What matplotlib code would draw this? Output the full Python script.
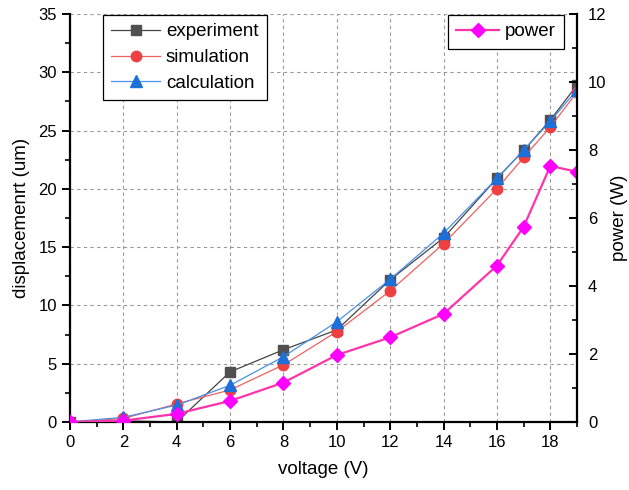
import matplotlib.pyplot as plt
from matplotlib.ticker import MultipleLocator

plt.rcParams['font.family'] = ['Liberation Sans', 'DejaVu Sans']

# data
voltage = [0, 2, 4, 6, 8, 10, 12, 14, 16, 17, 18, 19]
experiment = [0, 0.1, 0.0, 4.3, 6.2, 7.9, 12.2, 15.8, 20.9, 23.3, 25.9, 28.9]
simulation = [0, 0.3, 1.55, 2.75, 4.9, 7.75, 11.25, 15.3, 20.0, 22.7, 25.3, 28.3]
calculation = [0, 0.4, 1.45, 3.15, 5.6, 8.6, 12.25, 16.2, 20.9, 23.3, 25.8, 28.5]
power = [0, 0.04, 0.24, 0.62, 1.16, 1.97, 2.49, 3.18, 4.6, 5.74, 7.53, 7.36]

fig = plt.figure(figsize=(6.29, 4.90), dpi=100)
ax = fig.add_axes([0.1113, 0.1388, 0.8060, 0.8326])

ax.plot(voltage, experiment, color='#444444', lw=0.9, marker='s', ms=7,
        mfc='#505050', mec='#505050', label='experiment')
ax.plot(voltage, simulation, color='#f06060', lw=0.9, marker='o', ms=7.5,
        mfc='#ee4040', mec='#ee4040', label='simulation')
ax.plot(voltage, calculation, color='#4a90e8', lw=0.9, marker='^', ms=8.5,
        mfc='#1f6fd8', mec='#1f6fd8', label='calculation')

ax.set_xlim(0, 19)
ax.set_ylim(0, 35)
ax.xaxis.set_major_locator(MultipleLocator(2))
ax.xaxis.set_minor_locator(MultipleLocator(1))
ax.yaxis.set_major_locator(MultipleLocator(5))
ax.yaxis.set_minor_locator(MultipleLocator(2.5))
ax.grid(True, which='major', linestyle=(0, (3, 3)), color='#999999', lw=0.8)
ax.spines['top'].set_visible(False)
ax.spines['right'].set_visible(False)
for s in ['left', 'bottom']:
    ax.spines[s].set_linewidth(1.6)
ax.tick_params(which='major', direction='out', length=6, width=1.4, labelsize=12)
ax.tick_params(which='minor', direction='out', length=3.5, width=1.2)
ax.set_xlabel('voltage (V)', fontsize=13.5, labelpad=8)
ax.set_ylabel('displacemenrt (um)', fontsize=13.5, labelpad=6)

leg = ax.legend(loc='upper left', bbox_to_anchor=(0.065, 0.998), fontsize=13.5,
                frameon=True, fancybox=False, edgecolor='black', framealpha=1,
                handlelength=2.6, borderpad=0.45, labelspacing=0.46,
                handletextpad=0.3, borderaxespad=0)
leg.get_frame().set_linewidth(0.9)

ax2 = ax.twinx()
ax2.plot(voltage, power, color='#ff33aa', lw=1.6, marker='D', ms=7,
         mfc='#ff00ff', mec='#ff00ff', label='power')
ax2.set_ylim(0, 12)
ax2.yaxis.set_major_locator(MultipleLocator(2))
ax2.yaxis.set_minor_locator(MultipleLocator(1))
ax2.spines['top'].set_visible(False)
ax2.spines['left'].set_visible(False)
ax2.spines['bottom'].set_visible(False)
ax2.spines['right'].set_linewidth(1.6)
ax2.tick_params(which='major', direction='in', length=6, width=1.4, labelsize=12, pad=8)
ax2.tick_params(which='minor', direction='in', length=3.5, width=1.2)
ax2.set_ylabel('power (W)', fontsize=13.5, labelpad=3)

leg2 = ax2.legend(loc='upper right', bbox_to_anchor=(0.975, 0.998), fontsize=13.5,
                  frameon=True, fancybox=False, edgecolor='black', framealpha=1,
                  handlelength=2.3, borderpad=0.45, handletextpad=0.3,
                  borderaxespad=0)
leg2.get_frame().set_linewidth(0.9)

fig.savefig('out.png', dpi=100)
